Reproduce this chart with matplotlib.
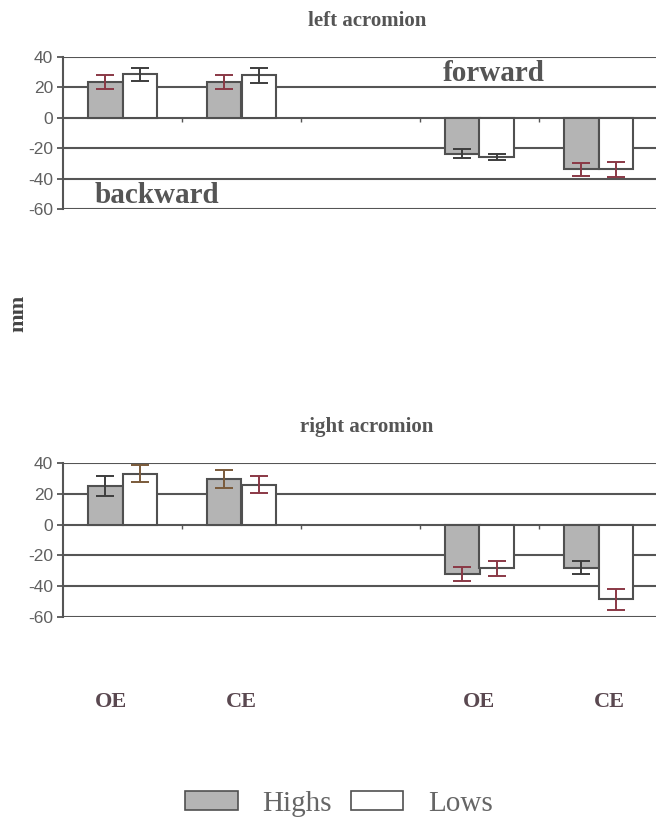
import matplotlib
matplotlib.use('Agg')
import matplotlib.pyplot as plt
from matplotlib.patches import Patch

# categories along the x axis (empty slot in the middle)
categories = ['OE', 'CE', '', 'OE', 'CE']

# left acromion (mm)
left_highs = [23.5, 23.5, -23.5, -34.0]
left_highs_err = [4.6, 4.6, 3.2, 4.3]
left_lows = [28.5, 28.0, -25.5, -34.0]
left_lows_err = [4.0, 5.0, 2.0, 5.0]

# right acromion (mm)
right_highs = [25.0, 29.5, -32.0, -28.0]
right_highs_err = [6.5, 5.8, 4.4, 4.4]
right_lows = [33.0, 26.0, -28.5, -48.5]
right_lows_err = [5.5, 5.7, 5.0, 6.8]

yticks = [40, 20, 0, -20, -40, -60]

DARK = '#3d3d3d'
RED = '#8a3845'
BROWN = '#7a5a3a'
left_err_colors = ([RED, RED, DARK, RED], [DARK, DARK, DARK, RED])
right_err_colors = ([DARK, BROWN, RED, DARK], [BROWN, RED, RED, RED])

GRID = '#555555'
EDGE = '#505050'
HIGH_FILL = '#b4b4b4'
TXT = '#555555'
SERIF = 'Liberation Serif'
SANS = 'Liberation Sans'

W, H = 656, 819
fig = plt.figure(figsize=(W / 100, H / 100), dpi=100)

xpos = [i for i, c in enumerate(categories) if c]
bw = 0.286


def draw_panel(ax, highs, highs_err, lows, lows_err, err_colors, title):
    ax.set_xlim(-0.5, len(categories) - 0.5)
    ax.set_ylim(-60, 40)
    ax.set_axisbelow(True)
    for y in yticks:
        ax.axhline(y, color=GRID, lw=1.5, zorder=0)
    xh = [x - bw / 2 for x in xpos]
    xl = [x + bw / 2 for x in xpos]
    ax.bar(xh, highs, width=bw, color=HIGH_FILL, edgecolor=EDGE, lw=1.5, zorder=2)
    ax.bar(xl, lows, width=bw, color='white', edgecolor=EDGE, lw=1.5, zorder=2)
    for i in range(len(xpos)):
        ax.errorbar(xh[i], highs[i], yerr=highs_err[i], fmt='none',
                    ecolor=err_colors[0][i], elinewidth=1.4, capsize=6.5,
                    capthick=1.4, zorder=3)
        ax.errorbar(xl[i], lows[i], yerr=lows_err[i], fmt='none',
                    ecolor=err_colors[1][i], elinewidth=1.4, capsize=6.5,
                    capthick=1.4, zorder=3)
    for s in ['top', 'right']:
        ax.spines[s].set_visible(False)
    ax.spines['left'].set_color(GRID)
    ax.spines['left'].set_linewidth(1.5)
    ax.spines['bottom'].set_position(('data', 0))
    ax.spines['bottom'].set_visible(False)
    ax.set_yticks(yticks)
    ax.set_yticklabels([str(t) for t in yticks], fontsize=12.5, family=SANS,
                       color='#606060')
    ax.tick_params(axis='y', length=4, width=1.3, color=GRID, pad=3)
    ax.set_xticks([i + 0.5 for i in range(len(categories) - 1)])
    ax.set_xticklabels([])
    ax.tick_params(axis='x', length=3, width=1, color=GRID, direction='out')
    ax.set_title(title, fontsize=15, family=SERIF, fontweight='bold',
                 color=TXT, pad=22, x=(367 - 63) / 595)


ax1 = fig.add_axes([63 / W, 1 - 209 / H, 595 / W, 152 / H])
draw_panel(ax1, left_highs, left_highs_err, left_lows, left_lows_err,
           left_err_colors, 'left acromion')
ax1.text(3.12, 29, 'forward', ha='center', va='center', fontsize=21,
         family=SERIF, fontweight='bold', color=TXT)
ax1.text(0.29, -51, 'backward', ha='center', va='center', fontsize=21,
         family=SERIF, fontweight='bold', color=TXT)

ax2 = fig.add_axes([63 / W, 1 - 617 / H, 595 / W, 154 / H])
draw_panel(ax2, right_highs, right_highs_err, right_lows, right_lows_err,
           right_err_colors, 'right acromion')

# category labels well below the lower panel
label_shift = [-0.1, 0.0, 0.0, 0.0, 0.09]
for x in xpos:
    ax2.text(x + label_shift[x], -0.55, categories[x],
             transform=ax2.get_xaxis_transform(),
             ha='center', va='center', fontsize=16, family=SERIF,
             fontweight='bold', color='#5a4850')

fig.text(18 / W, 1 - 313 / H, 'mm', rotation=90, ha='center', va='center',
         fontsize=16, family=SERIF, fontweight='bold', color='#444444')

handles = [Patch(facecolor=HIGH_FILL, edgecolor=EDGE, lw=1.2, label='Highs'),
           Patch(facecolor='white', edgecolor=EDGE, lw=1.2, label='Lows')]
leg = fig.legend(handles=handles, loc='center', ncol=2, frameon=False,
                 bbox_to_anchor=(339 / W, 1 - 804 / H),
                 prop={'family': SERIF, 'size': 21},
                 handlelength=1.8, handleheight=0.6, handletextpad=0.85,
                 columnspacing=0.65)
for t in leg.get_texts():
    t.set_color('#666666')

fig.savefig('out.png', dpi=100)
